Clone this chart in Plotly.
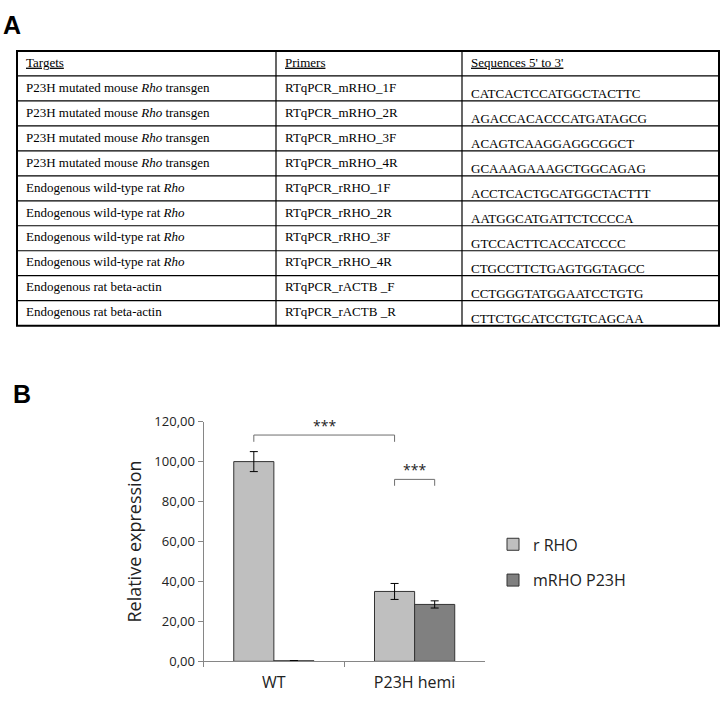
import plotly.graph_objects as go

W, H = 723, 703

# ---- panel A: primer table ----
table_header = ['<u>Targets</u>', '<u>Primers</u>', "<u>Sequences 5' to 3'</u>"]
targets = [
    'P23H mutated mouse <i>Rho</i> transgen',
    'P23H mutated mouse <i>Rho</i> transgen',
    'P23H mutated mouse <i>Rho</i> transgen',
    'P23H mutated mouse <i>Rho</i> transgen',
    'Endogenous wild-type rat <i>Rho</i>',
    'Endogenous wild-type rat <i>Rho</i>',
    'Endogenous wild-type rat <i>Rho</i>',
    'Endogenous wild-type rat <i>Rho</i>',
    'Endogenous rat beta-actin',
    'Endogenous rat beta-actin',
]
primers = [
    'RTqPCR_mRHO_1F', 'RTqPCR_mRHO_2R', 'RTqPCR_mRHO_3F', 'RTqPCR_mRHO_4R',
    'RTqPCR_rRHO_1F', 'RTqPCR_rRHO_2R', 'RTqPCR_rRHO_3F', 'RTqPCR_rRHO_4R',
    'RTqPCR_rACTB _F', 'RTqPCR_rACTB _R',
]
sequences = [
    'CATCACTCCATGGCTACTTC', 'AGACCACACCCATGATAGCG', 'ACAGTCAAGGAGGCGGCT',
    'GCAAAGAAAGCTGGCAGAG', 'ACCTCACTGCATGGCTACTTT', 'AATGGCATGATTCTCCCCA',
    'GTCCACTTCACCATCCCC', 'CTGCCTTCTGAGTGGTAGCC', 'CCTGGGTATGGAATCCTGTG',
    'CTTCTGCATCCTGTCAGCAA',
]
col_widths = [259, 186, 257]

# ---- panel B: relative expression ----
groups = ['WT', 'P23H hemi']
rrho = [100.0, 35.0]
rrho_err = [5.0, 4.0]
mrho = [0.3, 28.5]
mrho_err = [0.0, 1.8]

# significance: (group a, series a, group b, series b, level, tick depth)
brackets = [
    (0, 0, 1, 0, 113.3, 3.4),
    (1, 0, 1, 1, 91.1, 3.2),
]

BARGAP = 0.43
serif = 'Liberation Serif'
sans = 'Open Sans'

fig = go.Figure()

# ---- table drawn on its own hidden axes (x in px of width, y in rows) ----
columns = [targets, primers, sequences]
n_rows = len(targets) + 1
col_edges = [sum(col_widths[:i]) for i in range(len(col_widths) + 1)]
PAD = 9
seq_drop = 0.25  # sequences sit a bit low in their cells

T_LEFT, T_TOP, T_BOTTOM = 17, 43, 325
row_px = (T_BOTTOM - T_TOP) / n_rows
edge = 3  # keep border strokes inside the clip area
edge_rows = edge / row_px

for ci, (head, col) in enumerate(zip(table_header, columns)):
    drop = seq_drop if ci == 2 else 0
    fig.add_trace(go.Scatter(
        x=[col_edges[ci] + PAD] * n_rows,
        y=[0] + [r + 1 + drop for r in range(len(col))],
        text=[head] + col,
        mode='text', textposition='middle right',
        textfont=dict(family=serif, size=13, color='black'),
        xaxis='x2', yaxis='y2', showlegend=False, hoverinfo='skip',
    ))

for r in range(1, n_rows):
    fig.add_shape(type='line', xref='x2', yref='y2',
                  x0=0, x1=col_edges[-1], y0=r - 0.5, y1=r - 0.5,
                  line=dict(color='black', width=1.2))
for e in col_edges[1:-1]:
    fig.add_shape(type='line', xref='x2', yref='y2',
                  x0=e, x1=e, y0=-0.5, y1=n_rows - 0.5,
                  line=dict(color='black', width=1.2))
fig.add_shape(type='rect', xref='x2', yref='y2',
              x0=0, x1=col_edges[-1], y0=-0.5, y1=n_rows - 0.5,
              line=dict(color='black', width=2))

# ---- bar chart ----
fig.add_trace(go.Bar(
    x=groups, y=rrho, name='r RHO',
    marker=dict(color='#bfbfbf', line=dict(color='#333333', width=1)),
    error_y=dict(type='data', array=rrho_err, color='black', thickness=1, width=4),
    legendgroup='a',
))
fig.add_trace(go.Bar(
    x=groups, y=mrho, name='mRHO P23H',
    marker=dict(color='#808080', line=dict(color='#333333', width=1)),
    error_y=dict(type='data', array=mrho_err, color='black', thickness=1, width=4),
    legendgroup='b',
))

# significance brackets, placed at bar centres
bar_w = (1 - BARGAP) / 2
for ga, sa, gb, sb, level, depth in brackets:
    xa = ga + (sa - 0.5) * bar_w
    xb = gb + (sb - 0.5) * bar_w
    fig.add_shape(
        type='path', xref='x', yref='y',
        path=f'M {xa},{level - depth} L {xa},{level} L {xb},{level} L {xb},{level - depth}',
        line=dict(color='#6e6e6e', width=1),
    )
    fig.add_annotation(
        x=(xa + xb) / 2, y=level, xref='x', yref='y', text='***',
        showarrow=False, yanchor='bottom', yshift=-2,
        font=dict(family=sans, size=14, color='#222222'),
    )

# panel letters
for letter, left, top in [('A', 1, 0), ('B', 11, 379)]:
    fig.add_annotation(
        x=left / W, y=1 - top / H, xref='paper', yref='paper', text=f'<b>{letter}</b>',
        showarrow=False, xanchor='left', yanchor='top',
        font=dict(family='Liberation Sans', size=25, color='black'),
    )

fig.update_layout(
    width=W, height=H,
    margin=dict(l=0, r=0, t=0, b=0),
    paper_bgcolor='white', plot_bgcolor='white',
    separators=', ',
    barmode='group', bargap=BARGAP, bargroupgap=0,
    font=dict(family=sans, color='#222222'),
    xaxis=dict(
        domain=[203.5 / W, 485 / W], anchor='y',
        showline=True, linecolor='#868686', linewidth=1,
        ticks='outside', tickson='boundaries', ticklen=5, tickcolor='#868686',
        tickfont=dict(size=16), ticklabelstandoff=6, showgrid=False,
    ),
    yaxis=dict(
        domain=[1 - 669.5 / H, 1 - 423.5 / H], anchor='x',
        range=[0, 120], tickvals=[0, 20, 40, 60, 80, 100, 120], tickformat='.2f',
        showline=True, linecolor='#868686', linewidth=1,
        ticks='outside', ticklen=5, tickcolor='#868686',
        tickfont=dict(size=13), showgrid=False, zeroline=False,
        title=dict(text='Relative expression', font=dict(size=18), standoff=8),
    ),
    xaxis2=dict(
        domain=[(T_LEFT - edge) / W, min(1, (T_LEFT + col_edges[-1] + edge) / W)],
        anchor='y2', range=[-edge, col_edges[-1] + edge],
        visible=False, fixedrange=True,
    ),
    yaxis2=dict(
        domain=[1 - (T_BOTTOM + edge) / H, 1 - (T_TOP - edge) / H], anchor='x2',
        range=[n_rows - 0.5 + edge_rows, -0.5 - edge_rows],
        visible=False, fixedrange=True,
    ),
    legend=dict(
        x=493 / W, y=1 - 532 / H, xanchor='left', yanchor='top',
        font=dict(size=16), traceorder='grouped', tracegroupgap=12,
        bgcolor='rgba(0,0,0,0)',
    ),
)

# drop the browser's default body margin so the figure sits at the page origin
fig.write_html("out.html", config={'displayModeBar': False},
               post_script="document.body.style.margin='0';document.body.style.overflow='hidden';")
